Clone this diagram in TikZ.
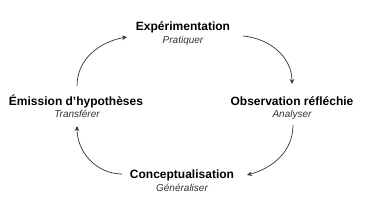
\documentclass[tikz,border=0pt]{standalone}
\usepackage{fontspec}
\setmainfont{Liberation Sans}
\usetikzlibrary{arrows.meta}
\begin{document}
\begin{tikzpicture}[x=1pt,y=-1pt,
  title/.style={font=\bfseries\fontsize{12}{14}\selectfont, inner sep=0pt, text=black},
  sub/.style={font=\itshape\fontsize{10}{12}\selectfont, inner sep=0pt, text=black!80},
  cyc/.style={draw=black!80, line width=0.7pt, -{Stealth[length=5pt,width=4.5pt]}}]
\useasboundingbox (0,0) rectangle (365,206);
\node[title] (exp) at (183,27) {Expérimentation};
\node[sub] (expsub) at (183,41) {Pratiquer};
\node[title] (obs) at (292,101) {Observation réfléchie};
\node[sub] (obssub) at (292,115) {Analyser};
\node[title] (emi) at (76,101) {Émission d’hypothèses};
\node[sub] (emisub) at (77,114) {Transférer};
\node[title] (con) at (182,175) {Conceptualisation};
\node[sub] (consub) at (182,188) {Généraliser};
\coordinate (a1s) at (77,86);
\coordinate (a1e) at (127,37);
\coordinate (a2s) at (243,36);
\coordinate (a2e) at (292,84);
\coordinate (a3s) at (293,125);
\coordinate (a3e) at (247,175);
\coordinate (a4s) at (122,174);
\coordinate (a4e) at (77,126);
\draw[cyc] (a1s) to[out=90,in=190] (a1e);
\draw[cyc] (a2s) to[out=-5,in=90] (a2e);
\draw[cyc] (a3s) to[out=-90,in=15] (a3e);
\draw[cyc] (a4s) to[out=180,in=-90] (a4e);
\end{tikzpicture}
\end{document}
